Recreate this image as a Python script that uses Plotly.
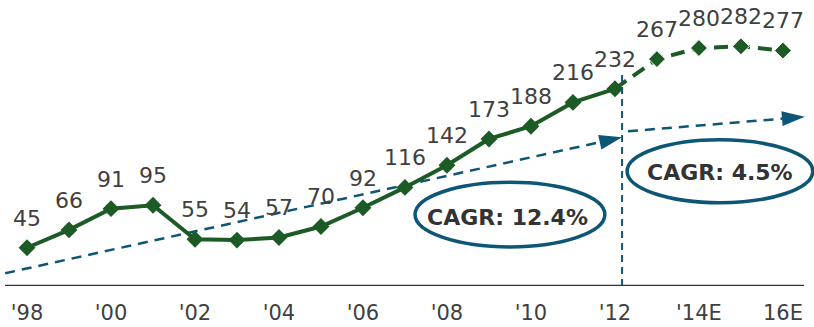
import plotly.graph_objects as go

# ---- data ----
years = list(range(1998, 2017))
values = [45, 66, 91, 95, 55, 54, 57, 70, 92, 116, 142, 173, 188, 216, 232, 267, 280, 282, 277]
n_actual = 15  # 1998..2012 are actual, 2013..2016 estimates
tick_idx = [0, 2, 4, 6, 8, 10, 12, 14, 16, 18]
tick_labels = ["'98", "'00", "'02", "'04", "'06", "'08", "'10", "'12", "'14E", "16E"]

# trend guides (in x-index / value coordinates)
trend1_x = [-0.52, 14.17]
trend1_y = [15, 175]
trend2_x = [14.31, 18.52]
trend2_y = [182, 199]
divider_x = 14.17
divider_top = 252
cagr_texts = ["CAGR: 12.4%", "CAGR: 4.5%"]
cagr_pos = [(11.45, 81), (16.5, 134)]
ellipses = [(9.24, 13.76, 46, 122), (14.29, 18.71, 98, 172)]

GREEN = "#1c5a26"
BLUE = "#0d5676"
TXT = "#404040"
FONT = "DejaVu Sans"

xs = list(range(len(years)))

fig = go.Figure()

# trend arrows
for tx, ty in [(trend1_x, trend1_y), (trend2_x, trend2_y)]:
    fig.add_trace(go.Scatter(
        x=tx, y=ty, mode="lines+markers",
        line=dict(color=BLUE, width=2.5, dash="10px,7px"),
        marker=dict(symbol="arrow", angleref="previous", size=[0, 24], color=BLUE,
                    opacity=1, line=dict(width=0)),
        hoverinfo="skip", showlegend=False, cliponaxis=False,
    ))

# actual series
fig.add_trace(go.Scatter(
    x=xs[:n_actual], y=values[:n_actual], mode="lines+markers",
    line=dict(color=GREEN, width=4),
    marker=dict(symbol="diamond", size=13, color=GREEN, opacity=1),
    showlegend=False, cliponaxis=False,
))
# estimate series (dashed)
fig.add_trace(go.Scatter(
    x=xs[n_actual - 1:], y=values[n_actual - 1:], mode="lines+markers",
    line=dict(color=GREEN, width=4, dash="14px,8px"),
    marker=dict(symbol="diamond", size=[0] + [13] * (len(values) - n_actual), color=GREEN, opacity=1),
    showlegend=False, cliponaxis=False,
))
# value labels (transparent spacer markers push the text up)
fig.add_trace(go.Scatter(
    x=xs, y=values, mode="markers+text",
    marker=dict(size=25, color="rgba(0,0,0,0)", opacity=1),
    text=[str(v) for v in values], textposition="top center",
    textfont=dict(family=FONT, size=22, color=TXT),
    hoverinfo="skip", showlegend=False, cliponaxis=False,
))

shapes = [
    dict(type="line", xref="x", yref="y", x0=-0.524, x1=18.5, y0=0, y1=0,
         line=dict(color="#333333", width=2.5)),
    dict(type="line", xref="x", yref="y", x0=divider_x, x1=divider_x, y0=0, y1=divider_top,
         line=dict(color=BLUE, width=2, dash="7px,5px")),
]
for x0, x1, y0, y1 in ellipses:
    shapes.append(dict(type="circle", xref="x", yref="y", x0=x0, x1=x1, y0=y0, y1=y1,
                       line=dict(color=BLUE, width=3.5)))

annotations = []
for t, (ax, ay) in zip(cagr_texts, cagr_pos):
    annotations.append(dict(x=ax, y=ay, xref="x", yref="y", text="<b>" + t + "</b>",
                            showarrow=False, font=dict(family=FONT, size=22, color="#333333")))

fig.update_layout(
    width=814, height=327,
    margin=dict(l=5, r=0, t=0, b=41, autoexpand=False),
    paper_bgcolor="white", plot_bgcolor="white",
    shapes=shapes, annotations=annotations,
    xaxis=dict(range=[-0.524, 18.74], tickvals=tick_idx, ticktext=tick_labels,
               showgrid=False, zeroline=False, showline=False, ticks="",
               automargin=False, ticklabelstandoff=12,
               tickfont=dict(family=FONT, size=21, color=TXT)),
    yaxis=dict(range=[0, 336.5], visible=False, showgrid=False, zeroline=False, automargin=False),
)

fig.write_html("out.html", config={"displayModeBar": False},
               post_script="document.body.style.margin='0';document.body.style.overflow='hidden';")
